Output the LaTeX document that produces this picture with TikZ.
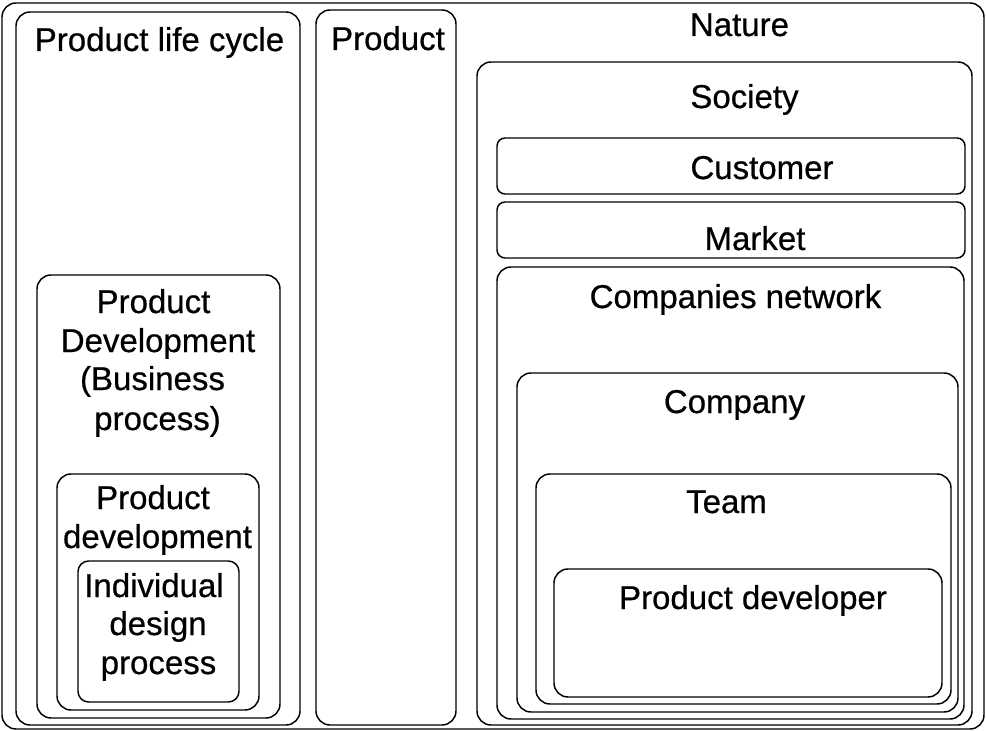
\documentclass[tikz,border=0pt]{standalone}
\usepackage{fontspec}
\setmainfont{Liberation Sans}
\newfontfamily\lblfont{Liberation Sans}[FakeBold=0.6]
\begin{document}
\begin{tikzpicture}[x=0.75pt,y=-0.75pt,
  box/.style={draw, line width=1.1pt, rounded corners=10.5pt},
  sbox/.style={draw, line width=1.1pt, rounded corners=6pt},
  lbl/.style={anchor=base, inner sep=0pt, font=\lblfont\fontsize{24.75pt}{29.5pt}\selectfont}]
\useasboundingbox (0,0) rectangle (986,731);
% boxes
\draw[box] (2,3) rectangle (984,729);
\draw[box] (16,12) rectangle (300,725);
\draw[box] (37,275) rectangle (280,718);
\draw[box] (57,474) rectangle (259,710);
\draw[box, rounded corners=8pt] (78,561) rectangle (239,702);
\draw[box] (316,10) rectangle (456,725);
\draw[box] (477,62) rectangle (972,725);
\draw[sbox] (497,138) rectangle (965,194);
\draw[sbox] (497,202) rectangle (965,258);
\draw[box] (497,267) rectangle (964,719);
\draw[box] (517,373) rectangle (958,712);
\draw[box] (536,474) rectangle (951,704);
\draw[box] (554,569) rectangle (942,697);
% labels
\node[lbl] (plc) at (159.5,51) {Product life cycle};
\node[lbl] (prod) at (388,50) {Product};
\node[lbl] (nat) at (739.5,36) {Nature};
\node[lbl] (soc) at (744.5,108) {Society};
\node[lbl] (cust) at (762,179) {Customer};
\node[lbl] (mkt) at (755,250) {Market};
\node[lbl] (cn) at (735.5,308) {Companies network};
\node[lbl] (comp) at (734.5,413) {Company};
\node[lbl] (team) at (726.5,513) {Team};
\node[lbl] (pdev) at (753,609) {Product developer};
\node[lbl] (pdbpA) at (153.5,313) {Product};
\node[lbl] (pdbpB) at (158,352) {Development};
\node[lbl] (pdbpC) at (152.5,390) {(Business};
\node[lbl] (pdbpD) at (157.5,430) {process)};
\node[lbl] (pdA) at (153,509) {Product};
\node[lbl] (pdB) at (157.5,548) {development};
\node[lbl] (idpA) at (154,597) {Individual};
\node[lbl] (idpB) at (158,635) {design};
\node[lbl] (idpC) at (158.5,674) {process};
\end{tikzpicture}
\end{document}
